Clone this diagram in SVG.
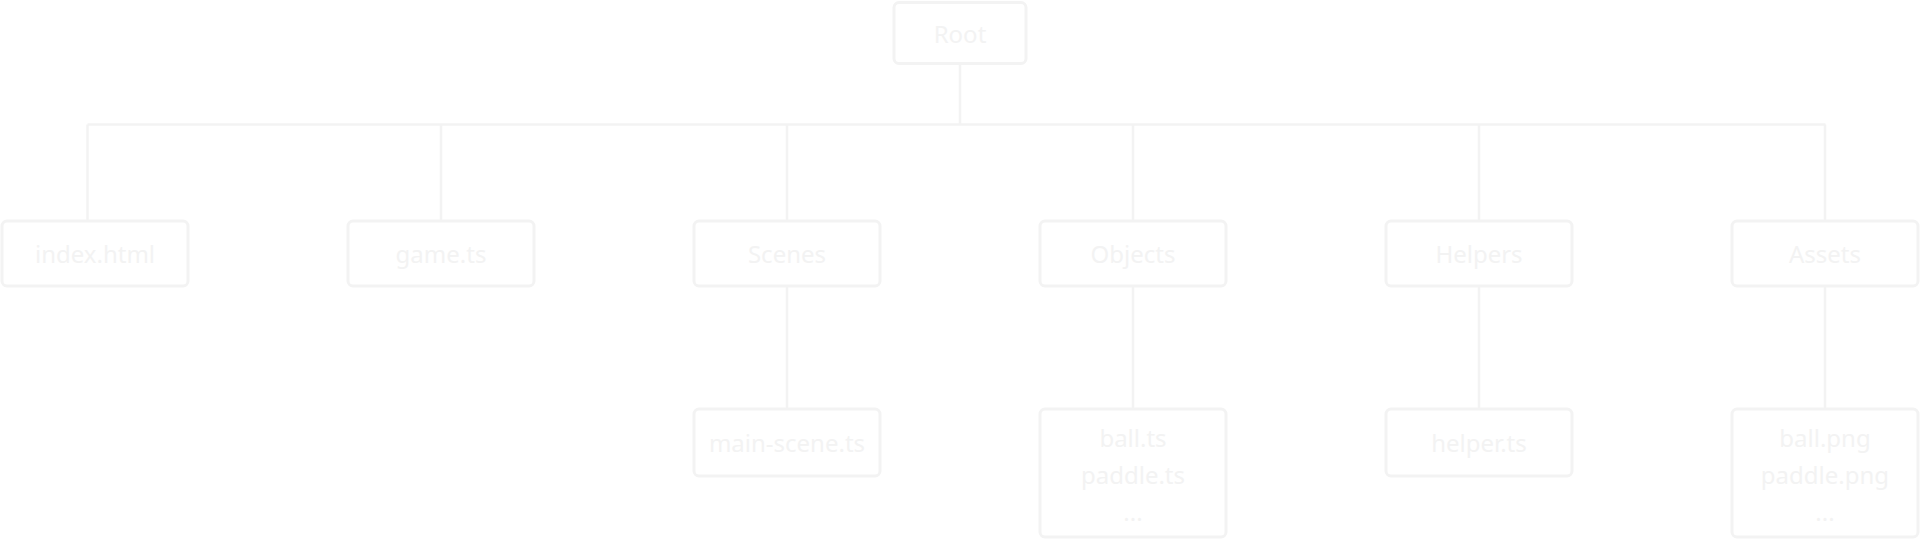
<svg xmlns="http://www.w3.org/2000/svg" width="1920" height="540" viewBox="0 0 1920 540">
<style>
.box{fill:#ffffff;stroke:#f3f3f3;stroke-width:3}
.lbl{font-family:"Noto Sans","Open Sans",sans-serif;font-size:24px;fill:#f3f3f3;text-anchor:middle}
.conn{stroke:#f3f3f3;stroke-width:2.5;fill:none}
</style>
<rect width="1920" height="540" fill="#ffffff"/>
<g id="connectors" class="conn">
<path d="M960 64V124.5M87.5 124.5H1825.5M87.5 124.5V220M441 124.5V220M787 124.5V220M1133 124.5V220M1479 124.5V220M1825 124.5V220"/>
<path d="M787 287V408M1133 287V408M1479 287V408M1825 287V408"/>
</g>
<g id="root"><rect class="box" x="894" y="2.5" width="132" height="61" rx="5"/><text class="lbl" x="960" y="42.5">Root</text></g>
<g id="index-html"><rect class="box" x="2" y="221" width="186" height="65" rx="5"/><text class="lbl" x="95" y="263">index.html</text></g>
<g id="game-ts"><rect class="box" x="348" y="221" width="186" height="65" rx="5"/><text class="lbl" x="441" y="263">game.ts</text></g>
<g id="scenes"><rect class="box" x="694" y="221" width="186" height="65" rx="5"/><text class="lbl" x="787" y="263">Scenes</text></g>
<g id="objects"><rect class="box" x="1040" y="221" width="186" height="65" rx="5"/><text class="lbl" x="1133" y="263">Objects</text></g>
<g id="helpers"><rect class="box" x="1386" y="221" width="186" height="65" rx="5"/><text class="lbl" x="1479" y="263">Helpers</text></g>
<g id="assets"><rect class="box" x="1732" y="221" width="186" height="65" rx="5"/><text class="lbl" x="1825" y="263">Assets</text></g>
<g id="main-scene"><rect class="box" x="694" y="409" width="186" height="67" rx="5"/><text class="lbl" x="787" y="452">main-scene.ts</text></g>
<g id="objects-files"><rect class="box" x="1040" y="409" width="186" height="128" rx="5"/><text class="lbl" x="1133" y="447">ball.ts</text><text class="lbl" x="1133" y="484">paddle.ts</text><text class="lbl" x="1133" y="521">...</text></g>
<g id="helper-file"><rect class="box" x="1386" y="409" width="186" height="67" rx="5"/><text class="lbl" x="1479" y="452">helper.ts</text></g>
<g id="assets-files"><rect class="box" x="1732" y="409" width="186" height="128" rx="5"/><text class="lbl" x="1825" y="447">ball.png</text><text class="lbl" x="1825" y="484">paddle.png</text><text class="lbl" x="1825" y="521">...</text></g>
</svg>
